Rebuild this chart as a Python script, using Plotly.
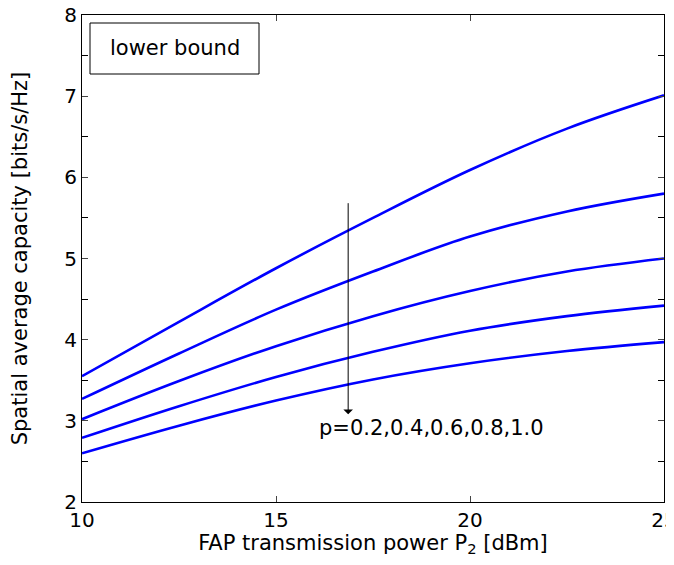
import plotly.graph_objects as go

x_vals = [10, 12.5, 15, 17.5, 20, 22.5, 25]
p_labels = ["p=0.2", "p=0.4", "p=0.6", "p=0.8", "p=1.0"]
cap_p02 = [3.55, 4.22, 4.88, 5.50, 6.09, 6.60, 7.01]
cap_p04 = [3.27, 3.83, 4.37, 4.84, 5.27, 5.58, 5.80]
cap_p06 = [3.02, 3.49, 3.92, 4.29, 4.60, 4.84, 5.00]
cap_p08 = [2.79, 3.18, 3.54, 3.85, 4.11, 4.29, 4.42]
cap_p10 = [2.60, 2.94, 3.25, 3.51, 3.71, 3.86, 3.97]
series = [cap_p02, cap_p04, cap_p06, cap_p08, cap_p10]

FONT = "DejaVu Sans"
FS = 20
TFS = 21

fig = go.Figure()
for name, ys in zip(p_labels, series):
    fig.add_trace(go.Scatter(x=x_vals, y=ys, mode="lines", name=name,
                             line=dict(color="#0000ff", width=2.6, shape="spline"),
                             showlegend=False))

# arrow
fig.add_annotation(x=16.86, y=3.08, ax=16.86, ay=5.70, xref="x", yref="y",
                   axref="x", ayref="y", showarrow=True, arrowhead=1,
                   arrowsize=1.6, arrowwidth=1, arrowcolor="black", text="")
fig.add_annotation(x=19.0, y=2.91, xref="x", yref="y", showarrow=False,
                   xanchor="center", yanchor="middle",
                   text="p=0.2,0.4,0.6,0.8,1.0", font=dict(family=FONT, size=TFS, color="black"))

# legend-like box (plot area: 582 x 487 px)
fig.add_shape(type="rect", xref="paper", yref="paper",
              x0=(90-82)/582, x1=(259-82)/582, y0=(502-74)/487, y1=(502-23)/487,
              line=dict(color="black", width=1), fillcolor="white")
fig.add_annotation(x=(175-82)/582, y=(502-48)/487, xref="paper", yref="paper",
                   xanchor="center", yanchor="middle",
                   showarrow=False, text="lower bound",
                   font=dict(family=FONT, size=TFS, color="black"))

fig.update_layout(
    width=666, height=549,
    margin=dict(l=74, r=10, t=7, b=55, autoexpand=False),
    paper_bgcolor="white", plot_bgcolor="white",
    font=dict(family=FONT, color="black"),
)
fig.update_xaxes(range=[10, 25], tickvals=[10, 15, 20, 25], ticks="inside", ticklen=6,
                 showline=True, linecolor="black", linewidth=1, mirror="ticks",
                 showgrid=False, zeroline=False, tickfont=dict(size=FS),
                 automargin=False, ticklabeloverflow="allow",
                 title=dict(text="FAP transmission power P<sub>2</sub> [dBm]", font=dict(size=TFS), standoff=3))
fig.update_yaxes(range=[2, 8], tickvals=[2, 3, 4, 5, 6, 7, 8], ticks="inside", ticklen=6,
                 showline=True, linecolor="black", linewidth=1, mirror="ticks",
                 showgrid=False, zeroline=False, tickfont=dict(size=FS),
                 automargin=False, ticklabeloverflow="allow",
                 minor=dict(ticks="inside", dtick=0.5, ticklen=6, tickcolor="black"),
                 title=dict(text="Spatial average capacity [bits/s/Hz]", font=dict(size=TFS), standoff=30))

fig.write_html("out.html")
